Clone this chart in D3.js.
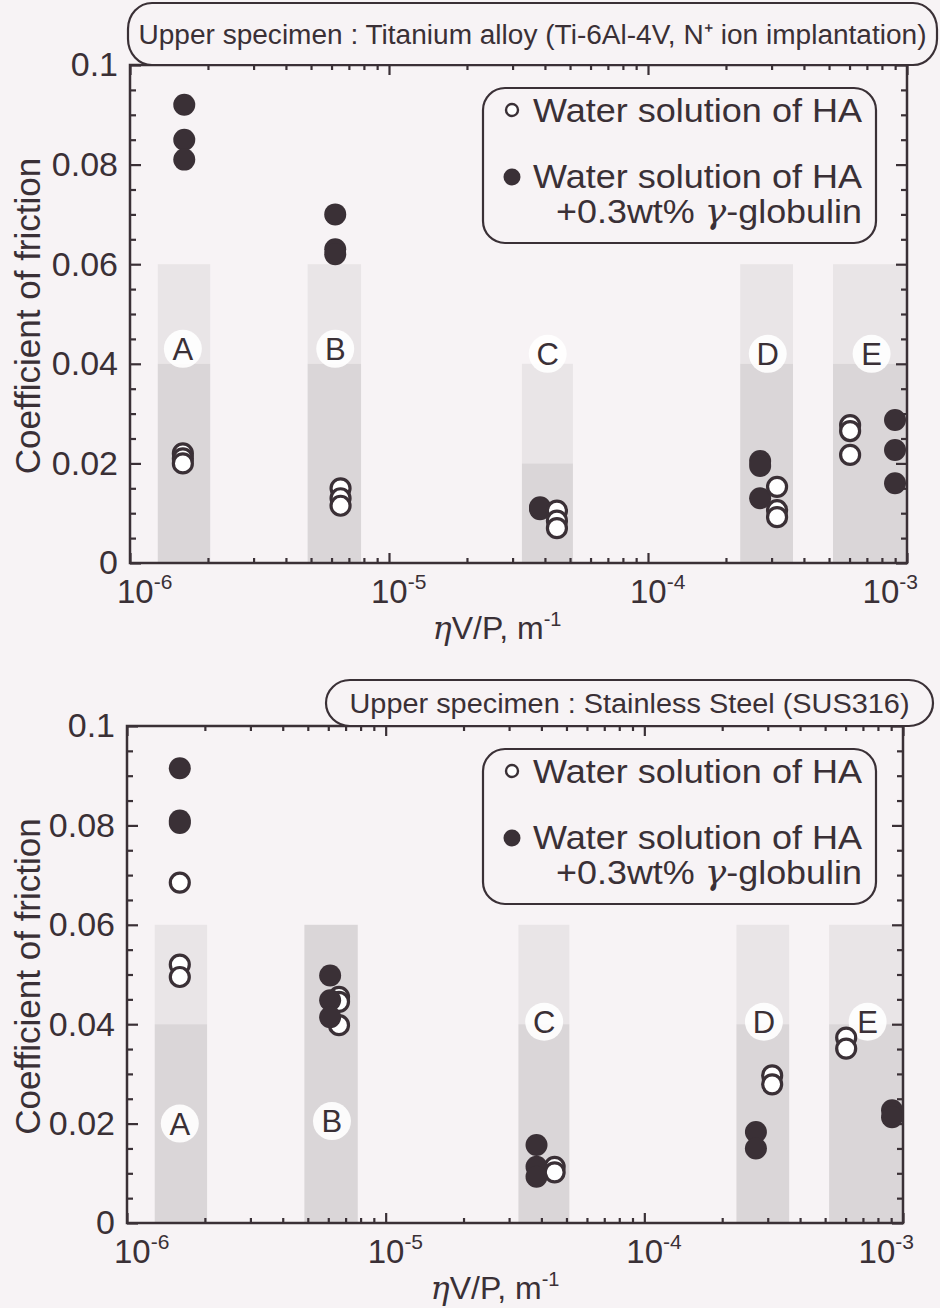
<!DOCTYPE html>
<html>
<head>
<meta charset="utf-8">
<script src="https://cdn.jsdelivr.net/npm/d3@7"></script>
<style>
  html, body { margin: 0; padding: 0; background: #f7f3f5; }
  svg { display: block; }
  text { fill: #3a3036; font-family: "Liberation Sans", Arial, Helvetica, sans-serif; }
</style>
</head>
<body>
<svg id="chart" width="940" height="1308"></svg>
<script>
// ---------------- DATA ----------------
const xDomain = [1e-6, 1e-3];
const yDomain = [0, 0.1];
const xMajorTicks = [1e-6, 1e-5, 1e-4, 1e-3];
const xTickExponents = ["-6", "-5", "-4", "-3"];
const yMajorTicks = [0, 0.02, 0.04, 0.06, 0.08, 0.1];
const yTickLabels = ["0", "0.02", "0.04", "0.06", "0.08", "0.1"];

const regionNames = ["A", "B", "C", "D", "E"];
const regionX0 = [1.28e-6, 4.85e-6, 3.26e-5, 2.27e-4, 5.18e-4];
const regionX1 = [2.04e-6, 7.8e-6, 5.13e-5, 3.63e-4, 1e-3];
const regionLabelX = [1.6e-6, 6.2e-6, 4.1e-5, 2.9e-4, 7.3e-4];

// top chart: Titanium alloy
const tiTitle = "Upper specimen : Titanium alloy (Ti-6Al-4V, N\u207A ion implantation)";
const tiBandTop = [0.06, 0.06, 0.04, 0.06, 0.06];
const tiBandSplit = [0.04, 0.04, 0.02, 0.04, 0.04];
const tiLabelY = [0.043, 0.043, 0.042, 0.042, 0.042];
const tiOpenX = [1.6e-6, 1.6e-6, 1.6e-6, 6.5e-6, 6.5e-6, 6.5e-6, 4.45e-5, 4.45e-5, 4.45e-5, 3.15e-4, 3.15e-4, 3.15e-4, 6.03e-4, 6.03e-4, 6.03e-4];
const tiOpenY = [0.022, 0.021, 0.020, 0.015, 0.013, 0.0115, 0.0105, 0.0085, 0.007, 0.0153, 0.0106, 0.0092, 0.0277, 0.0265, 0.0217];
const tiFilledX = [1.62e-6, 1.62e-6, 1.62e-6, 6.2e-6, 6.2e-6, 6.2e-6, 3.83e-5, 3.83e-5, 3.83e-5, 2.71e-4, 2.71e-4, 2.71e-4, 8.99e-4, 8.99e-4, 8.99e-4];
const tiFilledY = [0.092, 0.085, 0.081, 0.070, 0.063, 0.062, 0.0112, 0.011, 0.0108, 0.0205, 0.0195, 0.013, 0.0287, 0.0227, 0.016];

// bottom chart: Stainless steel
const ssTitle = "Upper specimen : Stainless Steel (SUS316)";
const ssBandTop = [0.06, 0.06, 0.06, 0.06, 0.06];
const ssBandSplit = [0.04, 0.06, 0.04, 0.04, 0.04];
const ssLabelY = [0.02, 0.0205, 0.0405, 0.0405, 0.0405];
const ssOpenX = [1.6e-6, 1.6e-6, 1.6e-6, 6.6e-6, 6.6e-6, 6.6e-6, 4.5e-5, 4.5e-5, 3.12e-4, 3.12e-4, 6.03e-4, 6.03e-4];
const ssOpenY = [0.0685, 0.052, 0.0495, 0.0455, 0.0445, 0.0398, 0.0113, 0.0102, 0.0297, 0.0279, 0.0373, 0.0351];
const ssFilledX = [1.6e-6, 1.6e-6, 1.6e-6, 6.1e-6, 6.1e-6, 6.1e-6, 3.83e-5, 3.83e-5, 3.83e-5, 2.7e-4, 2.7e-4, 9.07e-4, 9.07e-4];
const ssFilledY = [0.0915, 0.081, 0.0805, 0.0498, 0.0448, 0.0414, 0.0157, 0.0113, 0.0093, 0.0183, 0.015, 0.0227, 0.0213];

const legendLabels = ["Water solution of HA", "Water solution of HA", "+0.3wt% "];

// ---------------- DRAW ----------------
const ink = "#3a3036";
const svg = d3.select("#chart");

function drawChart(cfg) {
  const g = svg.append("g");
  const x = d3.scaleLog().domain(xDomain).range([cfg.left, cfg.right]);
  const y = d3.scaleLinear().domain(yDomain).range([cfg.bottom, cfg.top]);

  // shaded regions
  regionNames.forEach((n, i) => {
    g.append("rect")
      .attr("x", x(regionX0[i])).attr("width", x(regionX1[i]) - x(regionX0[i]))
      .attr("y", y(cfg.bandTop[i])).attr("height", y(cfg.bandSplit[i]) - y(cfg.bandTop[i]))
      .attr("fill", "#e9e5e7");
    g.append("rect")
      .attr("x", x(regionX0[i])).attr("width", x(regionX1[i]) - x(regionX0[i]))
      .attr("y", y(cfg.bandSplit[i])).attr("height", y(0) - y(cfg.bandSplit[i]))
      .attr("fill", "#dad6d8");
  });

  // region labels with white halo
  regionNames.forEach((n, i) => {
    const cx = x(regionLabelX[i]), cy = y(cfg.labelY[i]);
    g.append("circle").attr("cx", cx).attr("cy", cy).attr("r", 19)
      .attr("fill", "#ffffff").attr("opacity", 0.9);
    g.append("text").attr("x", cx).attr("y", cy + 11)
      .attr("text-anchor", "middle").attr("font-size", 31).text(n);
  });

  // minor and major ticks on all four sides (inward)
  const xMinor = [];
  for (let e = -6; e < -3; e++) for (let m = 2; m <= 9; m++) xMinor.push(m * Math.pow(10, e));
  const yMinor = d3.range(0, 0.1001, 0.005).filter(v => Math.abs(Math.round(v / 0.02) * 0.02 - v) > 1e-9);

  const axB = g.append("g").attr("transform", `translate(0,${cfg.bottom})`);
  axB.call(d3.axisBottom(x).tickValues(xMinor).tickSize(-5).tickFormat(""));
  axB.append("g").call(d3.axisBottom(x).tickValues(xMajorTicks).tickSize(-10).tickFormat(""));
  const axT = g.append("g").attr("transform", `translate(0,${cfg.top})`);
  axT.call(d3.axisTop(x).tickValues(xMinor).tickSize(-5).tickFormat(""));
  axT.append("g").call(d3.axisTop(x).tickValues(xMajorTicks).tickSize(-10).tickFormat(""));
  const axL = g.append("g").attr("transform", `translate(${cfg.left},0)`);
  axL.call(d3.axisLeft(y).tickValues(yMinor).tickSize(-6).tickFormat(""));
  axL.append("g").call(d3.axisLeft(y).tickValues(yMajorTicks).tickSize(-11).tickPadding(12)
    .tickFormat((d, i) => yTickLabels[i]));
  const axR = g.append("g").attr("transform", `translate(${cfg.right},0)`);
  axR.call(d3.axisRight(y).tickValues(yMinor).tickSize(-6).tickFormat(""));
  axR.append("g").call(d3.axisRight(y).tickValues(yMajorTicks).tickSize(-11).tickFormat(""));
  g.selectAll(".domain").remove();
  g.selectAll(".tick line").attr("stroke", ink).attr("stroke-width", 2.2);
  axL.selectAll(".tick text").attr("font-size", 34).attr("fill", ink)
    .attr("font-family", "Liberation Sans, Arial, sans-serif");

  // frame
  g.append("rect").attr("x", cfg.left).attr("y", cfg.top)
    .attr("width", cfg.right - cfg.left).attr("height", cfg.bottom - cfg.top)
    .attr("fill", "none").attr("stroke", ink).attr("stroke-width", 2.5);

  // x tick labels 10^n
  xMajorTicks.forEach((v, i) => {
    const last = i === xMajorTicks.length - 1;
    const t = g.append("text").attr("y", cfg.bottom + 40).attr("font-size", 33)
      .attr("text-anchor", last ? "end" : "start");
    t.append("tspan").text("10");
    t.append("tspan").attr("font-size", 21).attr("dy", -14).text(xTickExponents[i]);
    t.attr("x", last ? x(v) + 11 : x(v) + (i === 0 ? 5 : 0) - 18);
  });

  // axis titles
  const xt = g.append("text").attr("x", cfg.xTitleX).attr("y", cfg.bottom + 76)
    .attr("text-anchor", "middle").attr("font-size", 32);
  xt.append("tspan").attr("font-family", "DejaVu Serif, serif").attr("font-style", "italic").text("\u03B7");
  xt.append("tspan").text("V/P, m");
  xt.append("tspan").attr("font-size", 20).attr("dy", -13).text("-1");

  g.append("text")
    .attr("transform", `translate(${cfg.yTitleX},${(cfg.top + cfg.bottom) / 2 + 2}) rotate(-90)`)
    .attr("text-anchor", "middle").attr("font-size", 35).text("Coefficient of friction");

  // points
  const openPts = cfg.openX.map((v, i) => ({ x: v, y: cfg.openY[i] }));
  const filledPts = cfg.filledX.map((v, i) => ({ x: v, y: cfg.filledY[i] }));
  const drawOpen = () => g.append("g").selectAll("circle").data(openPts).join("circle")
    .attr("cx", d => x(d.x)).attr("cy", d => y(d.y)).attr("r", 9.5)
    .attr("fill", "#ffffff").attr("stroke", ink).attr("stroke-width", 3.2);
  const drawFilled = () => g.append("g").selectAll("circle").data(filledPts).join("circle")
    .attr("cx", d => x(d.x)).attr("cy", d => y(d.y)).attr("r", 11)
    .attr("fill", ink);
  if (cfg.openOnTop) { drawFilled(); drawOpen(); } else { drawOpen(); drawFilled(); }

  // title box
  g.append("rect").attr("x", cfg.titleBox[0]).attr("y", cfg.titleBox[1])
    .attr("width", cfg.titleBox[2] - cfg.titleBox[0]).attr("height", cfg.titleBox[3] - cfg.titleBox[1])
    .attr("rx", 24).attr("ry", 26)
    .attr("fill", "#f7f3f5").attr("stroke", ink).attr("stroke-width", 2.2);
  g.append("text").attr("x", (cfg.titleBox[0] + cfg.titleBox[2]) / 2)
    .attr("y", (cfg.titleBox[1] + cfg.titleBox[3]) / 2 + 10)
    .attr("text-anchor", "middle").attr("font-size", 27)
    .attr("font-family", "Liberation Sans Narrow, Liberation Sans, Arial, sans-serif")
    .attr("textLength", cfg.titleLen).attr("lengthAdjust", "spacingAndGlyphs")
    .text(cfg.title);

  // legend
  const lb = cfg.legendBox;
  g.append("rect").attr("x", lb[0]).attr("y", lb[1]).attr("width", lb[2] - lb[0]).attr("height", lb[3] - lb[1])
    .attr("rx", 22).attr("fill", "#f7f3f5").attr("stroke", ink).attr("stroke-width", 2.2);
  g.append("circle").attr("cx", lb[0] + 29).attr("cy", lb[1] + 22).attr("r", 6)
    .attr("fill", "#fff").attr("stroke", ink).attr("stroke-width", 2.4);
  g.append("circle").attr("cx", lb[0] + 29).attr("cy", lb[1] + 89).attr("r", 8.5).attr("fill", ink);
  g.append("text").attr("x", lb[0] + 50).attr("y", lb[1] + 34).attr("font-size", 33)
    .attr("textLength", 329).attr("lengthAdjust", "spacingAndGlyphs").text(legendLabels[0]);
  g.append("text").attr("x", lb[0] + 50).attr("y", lb[1] + 100).attr("font-size", 33)
    .attr("textLength", 329).attr("lengthAdjust", "spacingAndGlyphs").text(legendLabels[1]);
  const l3 = g.append("text").attr("x", lb[0] + 73).attr("y", lb[1] + 135).attr("font-size", 33)
    .attr("textLength", 306).attr("lengthAdjust", "spacingAndGlyphs");
  l3.append("tspan").text(legendLabels[2]);
  l3.append("tspan").attr("font-family", "DejaVu Serif, serif").attr("font-style", "italic").text("\u03B3");
  l3.append("tspan").text("-globulin");
}

drawChart({
  left: 130, right: 907, top: 65, bottom: 563,
  bandTop: tiBandTop, bandSplit: tiBandSplit, labelY: tiLabelY,
  openX: tiOpenX, openY: tiOpenY, filledX: tiFilledX, filledY: tiFilledY,
  openOnTop: true,
  title: tiTitle, titleBox: [128, 3, 937, 65], titleLen: 788,
  legendBox: [483, 88, 876, 243], xTitleX: 497, yTitleX: 40
});

drawChart({
  left: 127, right: 903, top: 726, bottom: 1223,
  bandTop: ssBandTop, bandSplit: ssBandSplit, labelY: ssLabelY,
  openX: ssOpenX, openY: ssOpenY, filledX: ssFilledX, filledY: ssFilledY,
  openOnTop: false,
  title: ssTitle, titleBox: [326, 680, 933, 726], titleLen: 560,
  legendBox: [483, 749, 876, 904], xTitleX: 495, yTitleX: 40
});
</script>
</body>
</html>
